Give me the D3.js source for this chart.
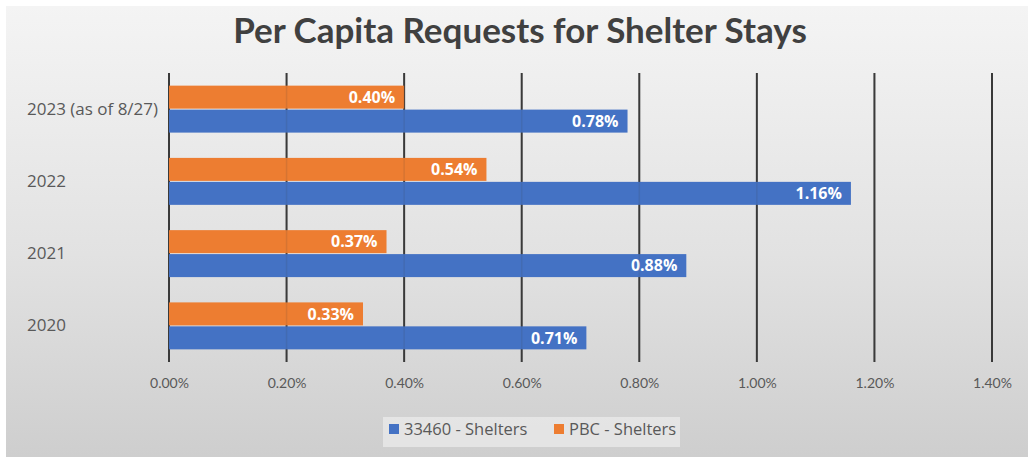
<!DOCTYPE html>
<html>
<head>
<meta charset="utf-8">
<script src="https://cdn.jsdelivr.net/npm/d3@7"></script>
<style>
  html, body { margin: 0; padding: 0; background: #ffffff; }
  svg { display: block; }
</style>
</head>
<body>
<svg id="chart" width="1028" height="458"></svg>
<script>
// Per capita shelter stay requests, by year
const categories = ["2023 (as of 8/27)", "2022", "2021", "2020"];
const zipShelters = [0.0078, 0.0116, 0.0088, 0.0071];   // 33460 - Shelters
const pbcShelters = [0.0040, 0.0054, 0.0037, 0.0033];   // PBC - Shelters
const seriesNames = ["33460 - Shelters", "PBC - Shelters"];
const xTicks = [0, 0.002, 0.004, 0.006, 0.008, 0.010, 0.012, 0.014];

const W = 1028, H = 458;
const svg = d3.select("#chart");
const font = "Lato, 'Open Sans', sans-serif";
const font2 = "'Open Sans', Lato, sans-serif";
const blue = "#4472C4", orange = "#ED7D31";

// Background panel with a soft vertical gradient
const defs = svg.append("defs");
const grad = defs.append("linearGradient").attr("id", "bg")
  .attr("x1", 0).attr("y1", 0).attr("x2", 0).attr("y2", 1);
grad.append("stop").attr("offset", "0%").attr("stop-color", "#f4f4f4");
grad.append("stop").attr("offset", "55%").attr("stop-color", "#e2e2e2");
grad.append("stop").attr("offset", "100%").attr("stop-color", "#cecece");
svg.append("rect").attr("x", 6).attr("y", 6).attr("width", W - 6).attr("height", 451)
  .attr("fill", "url(#bg)");

// Title
svg.append("text")
  .attr("x", 520).attr("y", 43)
  .attr("text-anchor", "middle")
  .attr("font-family", font).attr("font-weight", "bold")
  .attr("font-size", 35).attr("fill", "#404040")
  .text("Per Capita Requests for Shelter Stays");

// Scales
const plot = { left: 169, right: 992, top: 73, bottom: 362 };
const x = d3.scaleLinear().domain([0, 0.014]).range([plot.left, plot.right]);
const y = d3.scaleBand().domain(categories).range([plot.top, plot.bottom]).paddingInner(0.35).paddingOuter(0.175);
const sub = d3.scaleBand().domain(["pbc", "zip"]).range([0, y.bandwidth()]).paddingInner(0.04);

// Vertical gridlines
svg.append("g").selectAll("line").data(xTicks).join("line")
  .attr("x1", d => x(d)).attr("x2", d => x(d))
  .attr("y1", plot.top).attr("y2", plot.bottom)
  .attr("stroke", "#3a3a3a").attr("stroke-width", 2);

// Bars
const rows = categories.map((c, i) => ({ cat: c, zip: zipShelters[i], pbc: pbcShelters[i] }));
const fmt = d3.format(".2%");
const barG = svg.append("g");
[["pbc", orange], ["zip", blue]].forEach(([key, color]) => {
  barG.selectAll("rect." + key).data(rows).join("rect")
    .attr("class", key)
    .attr("x", x(0))
    .attr("y", d => y(d.cat) + sub(key))
    .attr("width", d => x(d[key]) - x(0))
    .attr("height", sub.bandwidth())
    .attr("fill", color);
  barG.selectAll("text." + key).data(rows).join("text")
    .attr("class", key)
    .attr("x", d => x(d[key]) - 9)
    .attr("y", d => y(d.cat) + sub(key) + sub.bandwidth() / 2)
    .attr("dy", "0.36em")
    .attr("text-anchor", "end")
    .attr("font-family", font2).attr("font-weight", "bold")
    .attr("font-size", 16).attr("fill", "#ffffff")
    .text(d => fmt(d[key]));
});

// Faint gridlines showing through the bars
svg.append("g").selectAll("line").data(xTicks.slice(1)).join("line")
  .attr("x1", d => x(d)).attr("x2", d => x(d))
  .attr("y1", plot.top).attr("y2", plot.bottom)
  .attr("stroke", "#3a3a3a").attr("stroke-width", 1.5).attr("opacity", 0.12);

// Category axis labels, left-aligned in the margin
const yAxis = d3.axisLeft(y).tickSize(0).tickPadding(0);
const gy = svg.append("g").attr("transform", `translate(${plot.left},0)`).call(yAxis);
gy.select(".domain").remove();
gy.selectAll("text")
  .attr("x", 27 - plot.left)
  .attr("text-anchor", "start")
  .attr("font-family", font2).attr("font-size", 17).attr("fill", "#595959");

// Value axis labels
const xAxis = d3.axisBottom(x).tickValues(xTicks).tickFormat(fmt).tickSize(0).tickPadding(16);
const gx = svg.append("g").attr("transform", `translate(0,${plot.bottom})`).call(xAxis);
gx.select(".domain").remove();
gx.selectAll("text").attr("font-family", font).attr("font-size", 14).attr("fill", "#595959");

// Legend
const lg = svg.append("g");
lg.append("rect").attr("x", 383).attr("y", 417).attr("width", 297).attr("height", 30)
  .attr("fill", "#ececec").attr("opacity", 0.7);
const items = [
  { name: seriesNames[0], color: blue, x: 389 },
  { name: seriesNames[1], color: orange, x: 554 }
];
items.forEach(it => {
  lg.append("rect").attr("x", it.x).attr("y", 424).attr("width", 10).attr("height", 10)
    .attr("fill", it.color);
  lg.append("text").attr("x", it.x + 15).attr("y", 429).attr("dy", "0.36em")
    .attr("font-family", font2).attr("font-size", 16.5).attr("fill", "#595959")
    .text(it.name);
});
</script>
</body>
</html>
